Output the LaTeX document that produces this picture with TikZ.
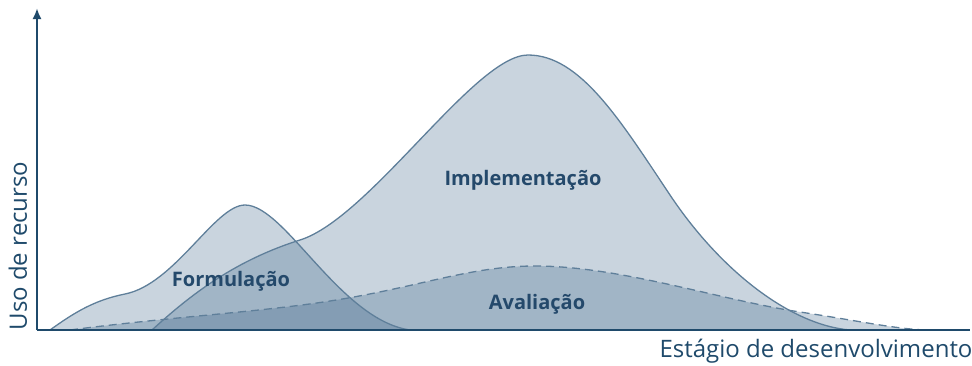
\documentclass[tikz,border=0pt]{standalone}
\usepackage{fontspec}
\setmainfont{Open Sans}
\usetikzlibrary{arrows.meta}
\definecolor{axisblue}{HTML}{1F4A6B}
\definecolor{areablue}{HTML}{2F5A80}
\definecolor{edgeblue}{HTML}{5F7F9A}
\definecolor{labelblue}{HTML}{24496B}
\tikzset{
  area/.style={fill=areablue,fill opacity=0.26},
  edge/.style={draw=edgeblue,line width=1.3pt},
  phase/.style={font=\bfseries\fontsize{20}{20}\selectfont,text=labelblue},
  axislabel/.style={font=\fontsize{24}{24}\selectfont,text=axisblue}
}
\def\formpath{(50,330) .. controls (75,312) and (95,300) .. (125,294)
  .. controls (175,284) and (215,205) .. (245,205)
  .. controls (285,205) and (340,320) .. (410,330)}
\def\implpath{(152,330) .. controls (185,300) and (230,262) .. (300,240)
  .. controls (370,218) and (475,55) .. (528,55)
  .. controls (580,55) and (620,120) .. (670,195)
  .. controls (720,270) and (790,325) .. (850,330)}
\def\avalpath{(70,330) .. controls (170,317) and (260,312) .. (330,301)
  .. controls (420,287) and (470,266) .. (535,266)
  .. controls (620,266) and (720,300) .. (800,312)
  .. controls (860,321) and (900,330) .. (930,330)}

\begin{document}
\begin{tikzpicture}[x=1pt,y=-1pt]
\useasboundingbox (0,0) rectangle (972,365);

\fill[area] \formpath -- cycle;
\fill[area] \implpath -- cycle;
\fill[area] \avalpath -- cycle;

\draw[edge] \formpath;
\draw[edge] \implpath;
\draw[edge,dash pattern=on 8pt off 5pt] \avalpath;

\coordinate (origin) at (37,330);
\coordinate (ytop) at (37,8);
\coordinate (xend) at (970,330);
\draw[axisblue,line width=2.5pt] (origin) -- (xend);
\draw[axisblue,line width=2.5pt,-{Latex[length=11pt,width=9pt]}] (origin) -- (ytop);

\node[phase] (form) at (231,281) {Formulação};
\node[phase] (impl) at (523,180) {Implementação};
\node[phase] (aval) at (537,304) {Avaliação};
\node[axislabel,rotate=90] (ylab) at (18,246) {Uso de recurso};
\node[axislabel] (xlab) at (816,351) {Estágio de desenvolvimento};
\end{tikzpicture}
\end{document}
